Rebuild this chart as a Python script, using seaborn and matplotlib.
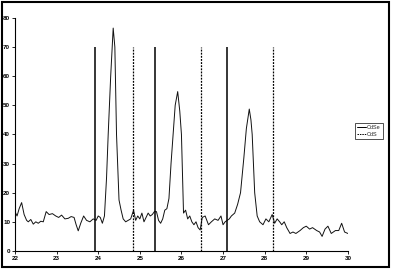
import matplotlib
matplotlib.use("Agg")
import matplotlib.pyplot as plt
import seaborn as sns
import pandas as pd
from matplotlib.patches import Rectangle
from matplotlib.lines import Line2D

sns.set_style("white")
plt.rcParams['font.family'] = ['Liberation Sans', 'DejaVu Sans']

two_theta = [22.00, 22.05, 22.10, 22.16, 22.22, 22.28, 22.32, 22.38, 22.44, 22.50, 22.56, 22.62,
             22.68, 22.75, 22.82, 22.90, 22.98, 23.05, 23.12, 23.20, 23.28, 23.35, 23.42, 23.47,
             23.52, 23.58, 23.65, 23.72, 23.80, 23.88, 23.95, 24.00, 24.05, 24.10, 24.15, 24.20,
             24.24, 24.30, 24.36, 24.40, 24.44, 24.50, 24.55, 24.60, 24.66, 24.72, 24.78, 24.85,
             24.90, 24.95, 25.00, 25.05, 25.10, 25.15, 25.20, 25.25, 25.30, 25.35, 25.40, 25.45,
             25.50, 25.55, 25.60, 25.65, 25.70, 25.75, 25.80, 25.85, 25.91, 25.96, 26.00, 26.05,
             26.10, 26.15, 26.20, 26.25, 26.30, 26.35, 26.40, 26.45, 26.50, 26.57, 26.65, 26.72,
             26.80, 26.88, 26.95, 27.00, 27.05, 27.10, 27.15, 27.20, 27.28, 27.35, 27.42, 27.50,
             27.56, 27.63, 27.67, 27.70, 27.76, 27.82, 27.88, 27.96, 28.03, 28.10, 28.18, 28.24,
             28.30, 28.36, 28.41, 28.47, 28.53, 28.61, 28.68, 28.75, 28.85, 28.93, 29.00, 29.08,
             29.15, 29.25, 29.32, 29.38, 29.45, 29.52, 29.60, 29.70, 29.78, 29.85, 29.92, 30.00]
intensity = [13.5, 12.0, 14.5, 16.6, 12.5, 10.5, 10.0, 10.8, 9.2, 10.0, 9.5, 10.2,
             10.0, 13.5, 12.5, 12.8, 12.0, 11.5, 12.3, 11.0, 11.2, 11.8, 11.5, 9.0,
             6.9, 9.5, 12.0, 10.5, 10.0, 11.0, 10.5, 12.0, 11.5, 9.5, 12.0, 25.0,
             40.0, 60.0, 76.5, 70.0, 40.0, 17.5, 14.0, 11.0, 10.0, 10.5, 11.0, 14.0,
             10.5, 12.0, 11.0, 13.0, 10.0, 11.5, 13.0, 12.0, 12.5, 13.5, 13.5, 10.5,
             9.5, 11.0, 14.0, 14.5, 18.0, 30.0, 40.0, 50.0, 54.7, 48.0, 40.0, 13.0,
             14.0, 11.0, 12.0, 10.0, 9.0, 10.0, 8.0, 7.2, 11.5, 12.0, 9.0, 10.0,
             11.0, 10.5, 12.0, 9.0, 10.0, 10.5, 11.0, 12.0, 13.0, 16.0, 20.0, 32.0,
             42.0, 48.7, 45.0, 40.0, 20.0, 12.0, 10.0, 9.0, 11.0, 10.0, 12.5, 9.5,
             11.0, 10.0, 9.0, 10.0, 8.0, 6.0, 6.5, 6.0, 7.0, 8.0, 8.5, 7.5,
             8.0, 7.0, 6.5, 5.0, 7.5, 8.5, 6.0, 7.0, 7.0, 9.5, 6.5, 6.0]

cdse_pos = [23.92, 25.37, 27.10]
cds_pos = [24.84, 26.46, 28.21]
ref_height = 70

series_names = ["CdSe", "CdS"]
x_ticks = [22, 23, 24, 25, 26, 27, 28, 29, 30]
y_ticks = [0, 10, 20, 30, 40, 50, 60, 70, 80]

df = pd.DataFrame({"two_theta": two_theta, "intensity": intensity})

fig = plt.figure(figsize=(3.94, 2.71), dpi=100)
ax = fig.add_axes([0.038, 0.074, 0.845, 0.86])

sns.lineplot(data=df, x="two_theta", y="intensity", ax=ax, color="#111111", linewidth=0.7)
ax.vlines(cdse_pos, 0, ref_height, colors="black", linewidth=1.1, linestyles="solid")
ax.vlines(cds_pos, 0, ref_height, colors="black", linewidth=0.9, linestyles=(0, (1.5, 1.0)))

ax.set_xlim(22, 30)
ax.set_ylim(0, 80)
ax.set_xticks(x_ticks)
ax.set_yticks(y_ticks)
ax.set_xticklabels([str(t) for t in x_ticks], fontsize=4.5, fontweight="bold")
ax.set_yticklabels([str(t) for t in y_ticks], fontsize=4.5, fontweight="bold")
ax.set_xlabel("")
ax.set_ylabel("")
for s in ["top", "right"]:
    ax.spines[s].set_visible(False)
for s in ["left", "bottom"]:
    ax.spines[s].set_color("black")
    ax.spines[s].set_linewidth(0.8)
ax.tick_params(axis="both", which="both", direction="out", length=2, width=0.6, pad=1.5,
               left=True, bottom=True, colors="black")

handles = [Line2D([0], [0], color="black", lw=0.7, ls="solid"),
           Line2D([0], [0], color="black", lw=0.7, ls=(0, (1.5, 1.0)))]
leg = fig.legend(handles, series_names, loc="upper left", bbox_to_anchor=(355/394, 1-123/271),
                 fontsize=4.0, frameon=True, fancybox=False, handlelength=1.6,
                 borderpad=0.35, labelspacing=0.3, handletextpad=0.2, borderaxespad=0)
leg.get_frame().set_edgecolor("black")
leg.get_frame().set_linewidth(0.6)

fig.patches.append(Rectangle((2/394, 4/271), 387/394, 265/271, transform=fig.transFigure,
                             fill=False, edgecolor="black", linewidth=1.5))

fig.savefig("out.png", dpi=100)
